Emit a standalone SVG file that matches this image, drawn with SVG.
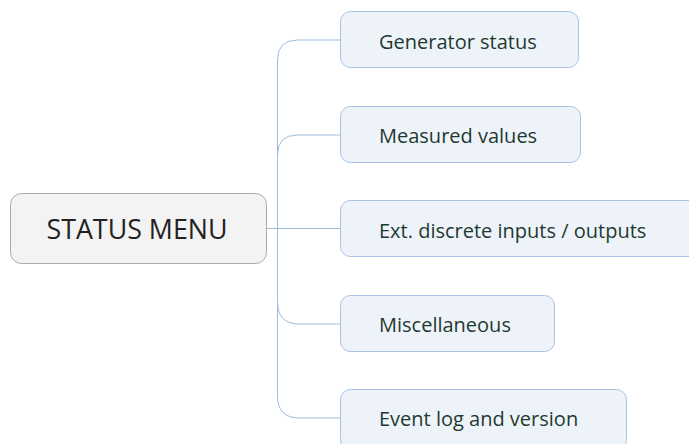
<svg xmlns="http://www.w3.org/2000/svg" width="689" height="444" viewBox="0 0 689 444">
<style>
.bg{fill:#ffffff}
.child rect{fill:#eef3fa;stroke:#a8c3e3;stroke-width:1}
.child text{font-family:"Open Sans","Noto Sans",sans-serif;font-size:20px;fill:#1e3a30}
.root rect{fill:#f3f3f3;stroke:#aaaaaa;stroke-width:1}
.root text{font-family:"Open Sans","Noto Sans",sans-serif;font-size:26.8px;fill:#222222}
.conn path{fill:none;stroke:#9dbce0;stroke-width:1}
</style>
<rect class="bg" x="0" y="0" width="689" height="444"/>
<g class="conn" id="connectors">
<path d="M267 228.5 H340"/>
<path d="M277.5 228.5 V60 Q277.5 40 297.5 40 H340"/>
<path d="M277.5 155 Q277.5 135 297.5 135 H340"/>
<path d="M277.5 228.5 V396 Q277.5 418 299.5 418 H340"/>
<path d="M277.5 302 Q277.5 324 299.5 324 H340"/>
</g>
<g class="root" id="status-menu">
<rect x="10.5" y="193.5" width="256" height="70" rx="11"/>
<text x="137" y="239" text-anchor="middle">STATUS MENU</text>
</g>
<g class="child" id="generator-status">
<rect x="340.5" y="11.5" width="238" height="56" rx="10"/>
<text x="379" y="49">Generator status</text>
</g>
<g class="child" id="measured-values">
<rect x="340.5" y="106.5" width="240" height="56" rx="10"/>
<text x="379" y="143">Measured values</text>
</g>
<g class="child" id="ext-discrete">
<rect x="340.5" y="200.5" width="360" height="56" rx="10"/>
<text x="379" y="238">Ext. discrete inputs / outputs</text>
</g>
<g class="child" id="miscellaneous">
<rect x="340.5" y="295.5" width="214" height="56" rx="10"/>
<text x="379" y="332">Miscellaneous</text>
</g>
<g class="child" id="event-log">
<rect x="340.5" y="389.5" width="286" height="60" rx="10"/>
<text x="379" y="426">Event log and version</text>
</g>
</svg>
